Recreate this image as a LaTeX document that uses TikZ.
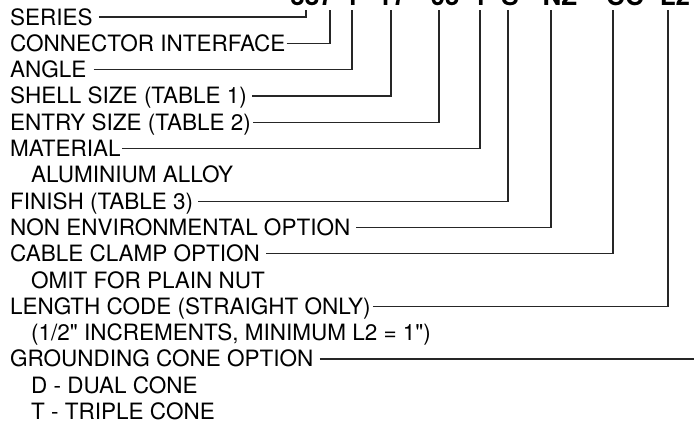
\documentclass[tikz,border=0pt]{standalone}
\usepackage{fontspec}
\setmainfont{TeX Gyre Heros}[Ligatures=TeXOff]
\begin{document}
\begin{tikzpicture}[x=1pt,y=-1pt,
  lab/.style={anchor=west, inner sep=0pt, text height=16pt, text depth=0pt, font=\fontsize{22.5}{26}\selectfont},
  conn/.style={draw=black!85, line width=1.2pt},
  pn/.style={anchor=base, inner sep=0pt, font=\fontsize{26}{30}\selectfont\bfseries}]
\useasboundingbox (0,0) rectangle (694,421);
\clip (0,0) rectangle (694,421);
% part number (cut off at the top)
\node[pn] (p1) at (312,5) {387};
\node[pn] (p2) at (352,5) {1};
\node[pn] (p3) at (392,5) {17};
\node[pn] (p4) at (445,5) {05};
\node[pn] (p5) at (480,5) {1};
\node[pn] (p6) at (510,5) {S};
\node[pn] (p7) at (560,5) {NZ};
\node[pn] (p8) at (625,5) {CC};
\node[pn] (p9) at (675,5) {L2};
% tops of the leader lines
\coordinate (v0) at (306,10);
\coordinate (v1) at (330,10);
\coordinate (v2) at (352,10);
\coordinate (v3) at (391,10);
\coordinate (v4) at (439,10);
\coordinate (v5) at (480,10);
\coordinate (v7) at (508,10);
\coordinate (v8) at (551,10);
\coordinate (v9) at (613,10);
\coordinate (v11) at (668,10);
\coordinate (v13) at (694,358.9);
% labels
\node[lab] (l0) at (10,17) {SERIES};
\node[lab] (l1) at (10,43.3) {CONNECTOR INTERFACE};
\node[lab] (l2) at (10,69.6) {ANGLE};
\node[lab] (l3) at (10,95.9) {SHELL SIZE (TABLE 1)};
\node[lab] (l4) at (10,122.2) {ENTRY SIZE (TABLE 2)};
\node[lab] (l5) at (10,148.5) {MATERIAL};
\node[lab] (l6) at (31,174.8) {ALUMINIUM ALLOY};
\node[lab] (l7) at (10,201.1) {FINISH (TABLE 3)};
\node[lab] (l8) at (10,227.4) {NON ENVIRONMENTAL OPTION};
\node[lab] (l9) at (10,253.7) {CABLE CLAMP OPTION};
\node[lab] (l10) at (31,280) {OMIT FOR PLAIN NUT};
\node[lab] (l11) at (10,306.3) {LENGTH CODE (STRAIGHT ONLY)};
\node[lab] (l12) at (31,332.6) {(1/2" INCREMENTS, MINIMUM L2 = 1")};
\node[lab] (l13) at (10,358.9) {GROUNDING CONE OPTION};
\node[lab] (l14) at (31,385.2) {D - DUAL CONE};
\node[lab] (l15) at (31,411.5) {T - TRIPLE CONE};
% leaders
\draw[conn] ([xshift=6pt]l0.east) -- (l0.east -| v0) -- (v0);
\draw[conn] ([xshift=1pt]l1.east) -- (l1.east -| v1) -- (v1);
\draw[conn] ([xshift=7pt]l2.east) -- (l2.east -| v2) -- (v2);
\draw[conn] ([xshift=5pt]l3.east) -- (l3.east -| v3) -- (v3);
\draw[conn] ([xshift=2pt]l4.east) -- (l4.east -| v4) -- (v4);
\draw[conn] ([xshift=1pt]l5.east) -- (l5.east -| v5) -- (v5);
\draw[conn] ([xshift=5pt]l7.east) -- (l7.east -| v7) -- (v7);
\draw[conn] ([xshift=6pt]l8.east) -- (l8.east -| v8) -- (v8);
\draw[conn] ([xshift=6pt]l9.east) -- (l9.east -| v9) -- (v9);
\draw[conn] ([xshift=2pt]l11.east) -- (l11.east -| v11) -- (v11);
\draw[conn] ([xshift=6pt]l13.east) -- (v13);
\end{tikzpicture}
\end{document}
